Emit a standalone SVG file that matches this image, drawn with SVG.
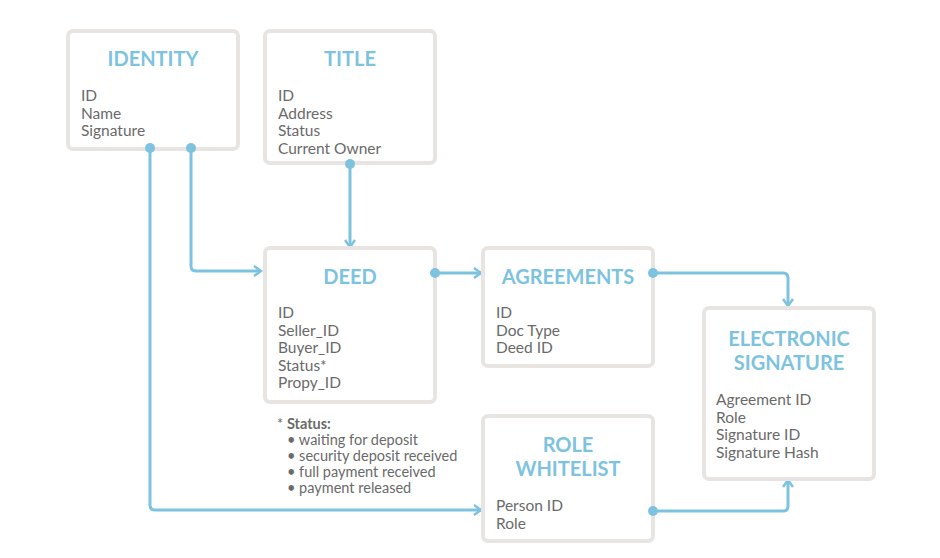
<svg xmlns="http://www.w3.org/2000/svg" width="940" height="558" viewBox="0 0 940 558">
<style>
.box{fill:#fff;stroke:#e8e4e1;stroke-width:4}
.ttl{font-family:Lato,"Open Sans",sans-serif;font-weight:bold;font-size:20px;fill:#7dc3e0;text-anchor:middle}
.txt{font-family:Lato,"Open Sans",sans-serif;font-size:15.5px;fill:#6a6a6a}
.note{font-family:Lato,"Open Sans",sans-serif;font-size:14.5px;fill:#6a6a6a}
.con{fill:none;stroke:#7dc3e0;stroke-width:3;stroke-linejoin:round}
.dot{fill:#7dc3e0}
</style>
<defs>
<marker id="arr" viewBox="0 0 12 12" refX="10" refY="6" markerWidth="12" markerHeight="12" markerUnits="userSpaceOnUse" orient="auto">
<path d="M3,1 L10,6 L3,11" fill="none" stroke="#7dc3e0" stroke-width="2.5"/>
</marker>
</defs>
<rect width="940" height="558" fill="#fff"/>
<g id="connectors">
<path class="con" d="M150,148 V505 Q150,510 155,510 H481" marker-end="url(#arr)"/>
<path class="con" d="M191,148 V266 Q191,271 196,271 H261" marker-end="url(#arr)"/>
<path class="con" d="M350,164 V247" marker-end="url(#arr)"/>
<path class="con" d="M435,273 H481" marker-end="url(#arr)"/>
<path class="con" d="M653,273 H783 Q788,273 788,278 V306" marker-end="url(#arr)"/>
<path class="con" d="M653,511 H783 Q788,511 788,506 V480" marker-end="url(#arr)"/>
</g>
<g id="identity">
<rect class="box" x="68" y="31" width="170" height="118" rx="5"/>
<text class="ttl" x="153" y="66">IDENTITY</text>
<text class="txt" x="81" y="101">ID</text>
<text class="txt" x="81" y="118.5">Name</text>
<text class="txt" x="81" y="136">Signature</text>
</g>
<g id="title">
<rect class="box" x="265" y="31" width="170" height="132" rx="5"/>
<text class="ttl" x="350" y="66">TITLE</text>
<text class="txt" x="278" y="101">ID</text>
<text class="txt" x="278" y="118.5">Address</text>
<text class="txt" x="278" y="136">Status</text>
<text class="txt" x="278" y="153.5">Current Owner</text>
</g>
<g id="deed">
<rect class="box" x="265" y="248" width="170" height="154" rx="5"/>
<text class="ttl" x="350" y="284">DEED</text>
<text class="txt" x="278" y="318">ID</text>
<text class="txt" x="278" y="335.5">Seller_ID</text>
<text class="txt" x="278" y="353">Buyer_ID</text>
<text class="txt" x="278" y="370.5">Status*</text>
<text class="txt" x="278" y="388">Propy_ID</text>
</g>
<g id="agreements">
<rect class="box" x="483" y="248" width="170" height="118" rx="5"/>
<text class="ttl" x="568" y="284">AGREEMENTS</text>
<text class="txt" x="496" y="318">ID</text>
<text class="txt" x="496" y="335.5">Doc Type</text>
<text class="txt" x="496" y="353">Deed ID</text>
</g>
<g id="electronic-signature">
<rect class="box" x="704" y="308" width="170" height="171" rx="5"/>
<text class="ttl" x="789" y="346">ELECTRONIC</text>
<text class="ttl" x="789" y="370">SIGNATURE</text>
<text class="txt" x="716" y="405">Agreement ID</text>
<text class="txt" x="716" y="422.5">Role</text>
<text class="txt" x="716" y="440">Signature ID</text>
<text class="txt" x="716" y="457.5">Signature Hash</text>
</g>
<g id="role-whitelist">
<rect class="box" x="483" y="416" width="170" height="125" rx="5"/>
<text class="ttl" x="568" y="452">ROLE</text>
<text class="ttl" x="568" y="476">WHITELIST</text>
<text class="txt" x="496" y="511">Person ID</text>
<text class="txt" x="496" y="528.5">Role</text>
</g>
<g id="status-note">
<text class="note" x="277" y="429"><tspan>* </tspan><tspan font-weight="bold">Status:</tspan></text>
<text class="note" x="287" y="445">•  waiting for deposit</text>
<text class="note" x="287" y="461">•  security deposit received</text>
<text class="note" x="287" y="477">•  full payment received</text>
<text class="note" x="287" y="493">•  payment released</text>
</g>
<g id="dots">
<circle class="dot" cx="150" cy="148" r="5"/>
<circle class="dot" cx="191" cy="148" r="5"/>
<circle class="dot" cx="350" cy="164" r="5"/>
<circle class="dot" cx="435" cy="273" r="5"/>
<circle class="dot" cx="653" cy="273" r="5"/>
<circle class="dot" cx="653" cy="511" r="5"/>
</g>
</svg>
